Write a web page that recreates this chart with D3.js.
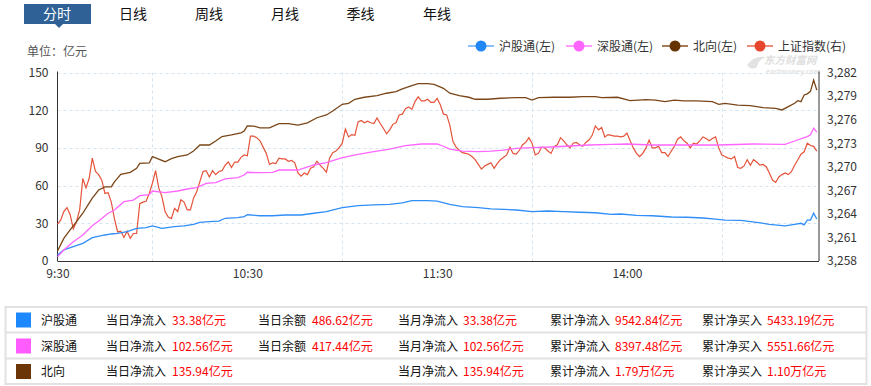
<!DOCTYPE html>
<html><head><meta charset="utf-8">
<script src="https://cdn.jsdelivr.net/npm/d3@7/dist/d3.min.js"></script>
<style>
html,body{margin:0;padding:0;background:#fff;}
svg{display:block;font-family:"Noto Sans CJK SC","Noto Sans",sans-serif;}
</style></head>
<body><svg id="c" width="871" height="386"></svg>
<script>
// ---------- data ----------
const tabs = ["分时","日线","周线","月线","季线","年线"];
const xTickMinutes = [0,60,120,180];
const xTickLabels = ["9:30","10:30","11:30","14:00"];
const leftTicks = [0,30,60,90,120,150];
const rightTicks = [3258,3261,3264,3267,3270,3273,3276,3279,3282];
const seriesNames = ["沪股通(左)","深股通(左)","北向(左)","上证指数(右)"];

const hgtMin = [0,2,5,8,11,15,17,19,22,25,28,30,33,37,40,43,45,48,51,53,57,59,60,64,68,72,77,81,85,90,95,100,105,109,112,117,120,124,128,133,137,141,145,150,155,160,165,170,175,178,183,188,194,199,204,208,211,216,221,225,230,233,235,236,237,238,239,240];
const hgtVal = [4.8,8.8,11.4,14,18.6,20.7,21.5,22,23.3,26,26.5,27.9,26,27.3,27.9,29.2,30.8,31.3,31.8,34,34.5,35.3,36.8,36,36,36.6,36.6,38,39.3,42.4,44,44.6,45.1,46.2,48,48,47.7,45.1,43.2,42.4,41.4,41.1,40.6,39.3,39.8,39.3,38.8,38.4,37.1,37.4,36.3,36,35,34.8,34.2,33.4,32.6,32.4,30.8,29.2,27.9,29.2,30,28.7,32.6,32.6,38,33.38];

const sgtMin = [0,2,5,8,11,13,16,18,21,24,26,29,30,34,38,41,44,47,50,53,57,59,60,64,68,70,76,81,85,90,95,100,105,110,115,120,121,124,128,133,137,141,145,150,156,162,168,175,180,188,199,209,220,230,233,236,237,238,239,240];
const sgtVal = [3.4,8.8,15.4,20.7,28.1,31.8,38,40.6,47.2,48.5,52,52.9,55.7,54.4,55.7,57.3,58.4,61.8,62.3,65.3,66.3,68.4,70.6,70.3,70.6,72.4,72.4,76.4,78.2,82.2,84.9,87,89.1,91.8,93.1,93.1,92.3,89.1,87.5,87,87.5,88.3,89.7,90.2,90.7,91.5,92.3,92.8,93.1,92.3,92.3,92.3,93.1,92.8,95.5,98.1,99,100.5,105.6,102.56];

const northMin = [0,2,4,6,8,10,11,13,15,17,18,20,23,25,26,29,30,32,34,36,38,41,43,45,48,50,52,55,58,59,60,62,64,67,70,73,76,79,82,85,87,90,92,94,97,101,104,107,109,112,114,117,119,122,124,127,130,132,136,140,145,148,150,152,157,162,166,170,172,177,181,186,189,192,195,198,202,207,209,211,215,219,223,227,229,231,233,234,235,236,237,238,239,240];
const northVal = [8,18,24.7,31.3,38,46,50,56.5,59,59,63,69,70.6,73.7,77.7,78,83,81,79,81.5,83,84.4,87.5,92.3,92.3,95.5,99,100.3,102,103.5,107.5,107.4,106,106,109.3,109.3,108.2,110,114,116.2,119.4,124.7,125.5,128.7,130.3,131.6,133.5,134.8,136.9,139.5,141.1,141.2,140.6,137.4,133.5,131.6,130.3,128.7,128.7,129.5,130,130,128.1,130,130.3,130.3,130.8,130.8,130,130.3,127.6,128.4,128,126.8,128,127.5,127.5,126.8,124.7,125.5,124.1,123.6,122,121.5,120.2,122.8,125.5,127.6,126.8,132.1,133,135,144,135.94];

// 上证指数, one value per minute (0 = 9:30 ... 240 = 15:00)
const shIndex = [3262.7,3263.2,3264.3,3264.8,3263.9,3262.1,3263.0,3264.5,3268.5,3267.3,3268.5,3271.1,3269.4,3269.0,3268.3,3266.6,3266.7,3265.5,3263.4,3261.7,
3261.8,3261.0,3261.8,3260.9,3261.5,3261.5,3265.3,3265.5,3265.6,3266.6,3267.9,3269.5,3267.3,3266.2,3264.3,3263.6,3263.4,3264.7,3264.3,3265.8,
3265.5,3264.5,3264.5,3266.0,3266.8,3268.1,3269.4,3269.5,3268.7,3269.5,3269.0,3269.4,3269.5,3270.2,3270.6,3269.9,3270.6,3270.6,3271.2,3271.5,
3271.4,3273.9,3273.9,3273.7,3273.3,3272.5,3271.7,3270.3,3270.5,3270.4,3271.1,3271.0,3271.0,3270.7,3270.8,3270.5,3269.2,3268.8,3269.2,3269.0,
3269.8,3270.0,3270.7,3270.2,3269.8,3269.3,3271.1,3271.8,3272.0,3272.4,3273.0,3274.8,3273.8,3274.1,3274.0,3275.7,3275.9,3275.6,3275.8,3275.6,
3275.5,3276.2,3275.5,3274.9,3274.2,3274.7,3275.4,3275.6,3276.6,3276.7,3277.4,3277.6,3277.3,3278.3,3278.9,3278.4,3278.4,3278.6,3278.2,3278.2,
3278.7,3277.9,3276.7,3276.6,3275.3,3273.2,3272.5,3272.1,3271.8,3271.7,3271.6,3271.3,3270.9,3270.3,3269.7,3270.1,3270.3,3270.5,3269.8,3270.4,
3270.9,3271.2,3271.5,3272.5,3271.7,3271.6,3272.1,3272.8,3273.1,3273.7,3273.0,3271.5,3271.7,3272.5,3272.4,3272.0,3271.7,3272.6,3272.8,3273.7,
3273.3,3272.8,3272.4,3273.0,3273.1,3272.8,3272.6,3273.1,3273.4,3274.0,3275.2,3274.7,3275.0,3273.8,3274.1,3274.0,3273.9,3273.9,3273.8,3273.9,
3274.3,3273.3,3272.4,3271.7,3271.3,3271.7,3272.4,3273.4,3272.4,3272.4,3272.6,3271.8,3271.8,3271.3,3272.0,3272.6,3273.5,3273.8,3273.3,3273.0,
3272.4,3273.0,3272.9,3273.3,3273.8,3273.6,3273.3,3273.6,3273.8,3272.4,3271.5,3271.3,3271.1,3271.0,3271.3,3269.9,3269.8,3270.1,3270.9,3270.2,
3270.9,3270.6,3270.2,3270.3,3270.0,3269.2,3268.3,3268.0,3268.7,3269.0,3269.2,3269.0,3269.4,3270.2,3270.9,3271.6,3271.9,3273.0,3272.7,3272.6,
3272.0];

// bottom table
const tableNames = ["沪股通","深股通","北向"];
const tableColors = ["#1e88ff","#ff5cff","#6b3508"];
const dailyNetIn = ["33.38亿元","102.56亿元","135.94亿元"];
const dailyBalance = ["486.62亿元","417.44亿元",""];
const monthNetIn = ["33.38亿元","102.56亿元","135.94亿元"];
const totalNetIn = ["9542.84亿元","8397.48亿元","1.79万亿元"];
const totalNetBuy = ["5433.19亿元","5551.66亿元","1.10万亿元"];

// ---------- drawing ----------
const svg = d3.select("#c");
const X0 = 57.5, X1 = 816.8, XR = 819, YT = 72.5, YB = 261;
const x = d3.scaleLinear().domain([0,240]).range([X0,X1]);
const yL = d3.scaleLinear().domain([0,150]).range([YB,YT]);
const yR = d3.scaleLinear().domain([3258,3282]).range([YB,YT]);

// tabs
const tabX = [57,133,209,285,360.5,437];
svg.append("rect").attr("x",24).attr("y",4).attr("width",67).attr("height",20).attr("fill","#2f6196");
svg.append("path").attr("d","M55,24 L63,24 L59,28 Z").attr("fill","#2f6196");
svg.selectAll("text.tab").data(tabs).join("text").attr("class","tab")
  .attr("x",(d,i)=>tabX[i]).attr("y",19).attr("text-anchor","middle")
  .attr("font-size",14).attr("fill",(d,i)=>i===0?"#fff":"#111").text(d=>d);

svg.append("text").attr("x",27).attr("y",56).attr("font-size",12).attr("fill","#555").text("单位：亿元");

// watermark (faint)
svg.append("text").attr("x",764).attr("y",64).attr("font-size",10.5).attr("font-weight","bold").attr("font-style","italic").attr("fill","#e0e0e0").text("东方财富网");
svg.append("text").attr("x",766).attr("y",74).attr("font-size",7).attr("font-weight","bold").attr("fill","#e4e4e4").text("eastmoney.com");
svg.append("path").attr("d","M747,65 Q754,55 766,57 Q758,60 757,67 Q751,71 747,65 Z").attr("fill","#e2e2e2");

// grid
const grid = svg.append("g");
grid.selectAll("line.h").data(leftTicks.slice(1)).join("line")
  .attr("x1",X0).attr("x2",XR).attr("y1",d=>Math.round(yL(d))+0.5).attr("y2",d=>Math.round(yL(d))+0.5)
  .attr("stroke","#d5e3ef").attr("stroke-dasharray","3,3");
grid.selectAll("line.v").data([30,90,150,210]).join("line")
  .attr("y1",YT).attr("y2",YB).attr("x1",d=>Math.round(x(d))+0.5).attr("x2",d=>Math.round(x(d))+0.5)
  .attr("stroke","#d5e3ef").attr("stroke-dasharray","3,3");

// axes
const axL = d3.axisLeft(yL).tickValues(leftTicks).tickSize(0).tickPadding(9);
const gL = svg.append("g").attr("transform",`translate(${X0},0)`).call(axL);
const axR = d3.axisRight(yR).tickValues(rightTicks).tickSize(0).tickPadding(8).tickFormat(d3.format(","));
const gR = svg.append("g").attr("transform",`translate(${XR},0)`).call(axR);
const axB = d3.axisBottom(x).tickValues(xTickMinutes).tickSize(0).tickPadding(6).tickFormat((d,i)=>xTickLabels[i]);
const gB = svg.append("g").attr("transform",`translate(0,${YB})`).call(axB);
[gL,gR,gB].forEach(g=>{
  g.select(".domain").remove();
  g.selectAll("text").attr("font-size",12).attr("fill","#333").attr("font-family","Noto Sans CJK SC, sans-serif");
});
gB.selectAll("text").attr("dy","0.9em");
svg.append("line").attr("x1",X0).attr("x2",X0).attr("y1",YT-1).attr("y2",YB).attr("stroke","#333");
svg.append("line").attr("x1",XR).attr("x2",XR).attr("y1",YT-1).attr("y2",YB).attr("stroke","#333");
svg.append("line").attr("x1",X0).attr("x2",XR).attr("y1",YB+0.5).attr("y2",YB+0.5).attr("stroke","#333");

// lines
const lineL = d3.line().x(d=>x(d[0])).y(d=>yL(d[1]));
const lineR = d3.line().x((d,i)=>x(i)).y(d=>yR(d));
const zip = (a,b)=>a.map((m,i)=>[m,b[i]]);
svg.append("path").datum(shIndex).attr("d",lineR).attr("fill","none").attr("stroke","#e5533a").attr("stroke-width",1.2);
svg.append("path").datum(zip(hgtMin,hgtVal)).attr("d",lineL).attr("fill","none").attr("stroke","#2f8ef7").attr("stroke-width",1.3);
svg.append("path").datum(zip(sgtMin,sgtVal)).attr("d",lineL).attr("fill","none").attr("stroke","#ff66ff").attr("stroke-width",1.3);
svg.append("path").datum(zip(northMin,northVal)).attr("d",lineL).attr("fill","none").attr("stroke","#7a4618").attr("stroke-width",1.3);

// legend
const legX = [468,566,662,747];
const legLine = ["#8cc0f8","#ff9cff","#a47c58","#ef8c7a"];
const legDot = ["#2088f5","#ff66ff","#663300","#e5462d"];
const leg = svg.append("g");
seriesNames.forEach((n,i)=>{
  const g = leg.append("g").attr("transform",`translate(${legX[i]},46)`);
  g.append("line").attr("x1",0).attr("x2",26).attr("y1",0).attr("y2",0).attr("stroke",legLine[i]).attr("stroke-width",2);
  g.append("circle").attr("cx",13).attr("cy",0).attr("r",5.5).attr("fill",legDot[i]);
  g.append("text").attr("x",31).attr("y",4.5).attr("font-size",12).attr("fill","#333").text(n);
});

// table
const tb = svg.append("g");
tb.append("rect").attr("x",5.5).attr("y",307).attr("width",861).attr("height",77).attr("fill","none").attr("stroke","#e2e2e2").attr("stroke-width",2);
[332.5,358.5].forEach(y=>tb.append("line").attr("x1",5).attr("x2",867).attr("y1",y).attr("y2",y).attr("stroke","#e2e2e2").attr("stroke-width",2));
const rowY = [320,346,371.5];
tableNames.forEach((n,i)=>{
  const y = rowY[i];
  tb.append("rect").attr("x",16).attr("y",y-7.5).attr("width",15).attr("height",15).attr("fill",tableColors[i]);
  const t = (xx,s,c)=>tb.append("text").attr("x",xx).attr("y",y+4.5).attr("font-size",12).attr("fill",c).text(s);
  t(41,n,"#111");
  t(106,"当日净流入","#111"); t(172,dailyNetIn[i],"#f00");
  if(dailyBalance[i]){ t(258,"当日余额","#111"); t(312,dailyBalance[i],"#f00"); }
  t(398,"当月净流入","#111"); t(463,monthNetIn[i],"#f00");
  t(550,"累计净流入","#111"); t(615,totalNetIn[i],"#f00");
  t(702,"累计净买入","#111"); t(767,totalNetBuy[i],"#f00");
});
</script></body></html>
